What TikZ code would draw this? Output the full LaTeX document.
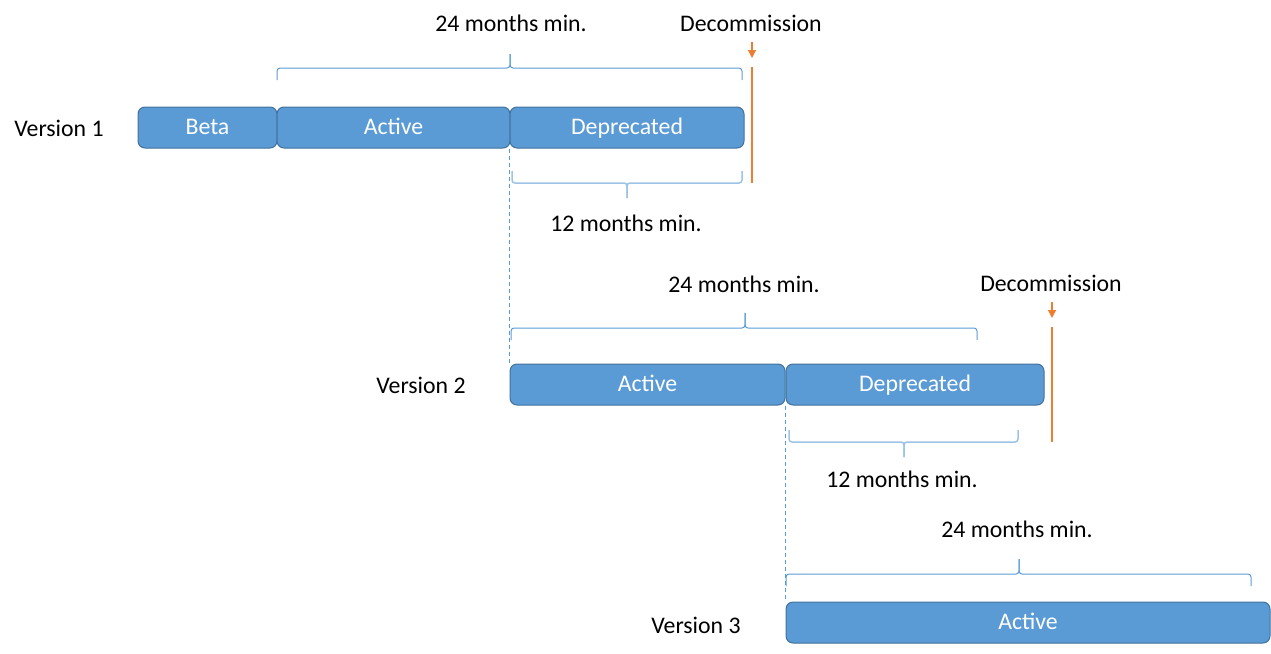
\documentclass[tikz,border=0pt]{standalone}
\usepackage{fontspec}
\setmainfont{Carlito}
\usetikzlibrary{arrows.meta}
\definecolor{boxblue}{HTML}{5B9BD5}
\definecolor{boxedge}{HTML}{41719C}
\definecolor{bracelight}{HTML}{9DC3E6}
\definecolor{decorange}{HTML}{ED7D31}

\begin{document}
\begin{tikzpicture}[x=1pt,y=-1pt,font=\fontsize{23.8}{28}\selectfont,
   phase/.style={draw=boxedge,fill=boxblue,text=white,rounded corners=7pt,
                 minimum height=41pt,inner sep=0pt,line width=1pt,
                 text height=18pt,text depth=5pt},
   topbrace/.style={draw=boxblue,line width=1pt,rounded corners=3pt},
   lowbrace/.style={draw=bracelight,line width=1.5pt,rounded corners=3pt},
   decline/.style={draw=decorange,line width=1.3pt},
   decarrow/.style={draw=decorange,line width=1.3pt,-{Triangle[length=8pt,width=8pt]}},
   split/.style={draw=boxblue,dash pattern=on 4pt off 3pt,line width=0.9pt}]
   \useasboundingbox (0,0) rectangle (1271,653);

   % version 1
   \node (v1) at (59,128) {Version 1};
   \node[phase,minimum width=139pt] (beta1) at (207.5,127.5) {Beta};
   \node[phase,minimum width=233pt] (act1) at (393.5,127.5) {Active};
   \node[phase,minimum width=234pt] (dep1) at (627,127.5) {Deprecated};
   \node (min24a) at (511,23) {24 months min.};
   \node (dec1) at (751,23) {Decommission};
   \node (min12a) at (626,223) {12 months min.};
   \draw[topbrace] (277,80) -- (277,68) -- (510,68) -- (510,54);
   \draw[topbrace] (510,54) -- (510,68) -- (742,68) -- (742,80);
   \draw[lowbrace] (512,171) -- (512,183) -- (627,183) -- (627,198);
   \draw[lowbrace] (627,198) -- (627,183) -- (742,183) -- (742,171);
   \coordinate (d1a) at (752,42);
   \coordinate (d1b) at (752,58);
   \coordinate (d1c) at (752,67);
   \coordinate (d1d) at (752,183);
   \path[decarrow] (d1a) -- (d1b);
   \path[decline] (d1c) -- (d1d);

   % version 2
   \node (v2) at (421,385) {Version 2};
   \node[phase,minimum width=275pt] (act2) at (647.5,384.5) {Active};
   \node[phase,minimum width=258pt] (dep2) at (915,384.5) {Deprecated};
   \node (min24b) at (744,284) {24 months min.};
   \node (dec2) at (1051,283) {Decommission};
   \node (min12b) at (902,479) {12 months min.};
   \draw[topbrace] (511,340) -- (511,328) -- (745,328) -- (745,313);
   \draw[topbrace] (745,313) -- (745,328) -- (977,328) -- (977,340);
   \draw[lowbrace] (789,430) -- (789,442) -- (904,442) -- (904,457);
   \draw[lowbrace] (904,457) -- (904,442) -- (1018,442) -- (1018,430);
   \coordinate (d2a) at (1052,302);
   \coordinate (d2b) at (1052,318);
   \coordinate (d2c) at (1052,327);
   \coordinate (d2d) at (1052,442);
   \path[decarrow] (d2a) -- (d2b);
   \path[decline] (d2c) -- (d2d);
   \path[split] (dep1.south west) -- (act2.north west);

   % version 3
   \node (v3) at (696,625) {Version 3};
   \node[phase,minimum width=484pt] (act3) at (1028,622.5) {Active};
   \node (min24c) at (1017,529) {24 months min.};
   \draw[topbrace] (786,586) -- (786,574) -- (1019,574) -- (1019,559);
   \draw[topbrace] (1019,559) -- (1019,574) -- (1251,574) -- (1251,586);
   \path[split] (dep2.south west) -- (act3.north west);

\end{tikzpicture}
\end{document}
